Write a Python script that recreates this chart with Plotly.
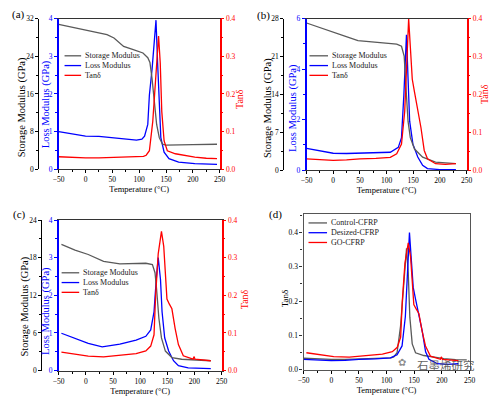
import plotly.graph_objects as go

# ---------------- data ----------------
# Panel (a) Control-CFRP
a_T_sto = [-50, -25, 0, 25, 40, 53, 71, 89, 107, 116, 120, 124, 128.4, 132.5, 137.4, 143.4, 150, 173.5, 200, 245]
a_sto = [30.8, 30.2, 29.6, 29.0, 28.6, 27.9, 26.1, 25.4, 24.7, 23.7, 22.7, 19.2, 13.7, 9.5, 6.7, 5.3, 5.1, 5.1, 5.2, 5.3]
a_T_loss = [-50, -25, 0, 25, 50, 75, 95, 105, 110, 116, 119, 124, 128.4, 131.3, 134.3, 137.4, 140.3, 146.4, 155.5, 173.5, 203.6, 245]
a_loss = [1.0, 0.93, 0.88, 0.87, 0.84, 0.80, 0.77, 0.80, 0.88, 1.19, 1.97, 2.66, 3.44, 3.96, 2.83, 1.53, 0.84, 0.45, 0.28, 0.19, 0.15, 0.13]
a_T_tan = [-50, -25, 0, 25, 50, 75, 100, 108, 113, 119, 125.3, 130.2, 133.8, 136.1, 139.2, 142.1, 146.4, 152.4, 167.4, 185, 203.6, 225, 245]
a_tan = [0.033, 0.031, 0.030, 0.030, 0.031, 0.032, 0.033, 0.034, 0.037, 0.049, 0.127, 0.24, 0.326, 0.354, 0.283, 0.153, 0.075, 0.049, 0.041, 0.036, 0.032, 0.029, 0.028]

# Panel (b) Desized-CFRP
b_T_sto = [-50, -25, 0, 24.5, 46.4, 82.7, 119, 128, 133, 137.3, 140.3, 144.5, 152.4, 167.6, 191.8, 230]
b_sto = [27.2, 26.4, 25.6, 24.7, 23.95, 23.6, 23.3, 22.9, 21.1, 13.8, 9.0, 6.0, 3.9, 2.4, 1.5, 1.2]
b_T_loss = [-50, -25, 0, 25, 46, 75, 107, 122, 128, 132.4, 135.5, 137.3, 140.3, 143.3, 149.4, 158.5, 167.6, 176.7, 200, 230]
b_loss = [0.86, 0.76, 0.67, 0.66, 0.67, 0.68, 0.71, 0.9, 1.29, 2.97, 4.65, 5.36, 3.62, 1.94, 1.03, 0.52, 0.19, 0.06, 0.02, 0.02]
b_T_tan = [-50, -25, 0, 25, 50, 80, 107, 119, 128, 134, 137.3, 140.3, 141.4, 144.5, 148.2, 152.4, 158.5, 164.5, 170.6, 176.7, 191.8, 210, 230]
b_tan = [0.030, 0.028, 0.026, 0.027, 0.030, 0.031, 0.034, 0.043, 0.069, 0.155, 0.284, 0.396, 0.40, 0.327, 0.24, 0.206, 0.163, 0.112, 0.052, 0.030, 0.017, 0.015, 0.017]

# Panel (c) GO-CFRP
c_T_sto = [-45, -20, 4.4, 32.6, 62.6, 92.5, 110.4, 122.5, 127.3, 130.2, 134.5, 139.2, 146.4, 158.4, 176.4, 230]
c_sto = [20.1, 19.2, 18.5, 17.4, 17.0, 17.0, 17.1, 16.9, 15.6, 13.0, 8.3, 5.2, 3.1, 2.07, 1.8, 1.56]
c_T_loss = [-45, -20, 4.4, 30, 62.6, 92.5, 110.4, 119.4, 125.5, 129.6, 133.2, 137.4, 140.3, 145.1, 152.4, 161.4, 170.4, 188.4, 230]
c_loss = [0.99, 0.85, 0.72, 0.63, 0.70, 0.81, 0.91, 1.08, 1.56, 2.42, 3.0, 2.42, 1.56, 0.87, 0.52, 0.26, 0.13, 0.07, 0.05]
c_T_tan = [-45, -20, 4.4, 32.6, 62.6, 92.5, 110.4, 119.4, 125.5, 128.4, 133.2, 137.4, 139.2, 143.4, 146.4, 149.3, 153.5, 158.4, 164.3, 170.4, 179.4, 197.4, 199, 201, 230]
c_tan = [0.049, 0.043, 0.038, 0.036, 0.040, 0.045, 0.052, 0.065, 0.095, 0.199, 0.31, 0.364, 0.37, 0.33, 0.242, 0.19, 0.177, 0.164, 0.112, 0.069, 0.039, 0.030, 0.037, 0.030, 0.026]

series_names = ["Storage Modulus", "Loss Modulus", "Tanδ"]
d_names = ["Control-CFRP", "Desized-CFRP", "GO-CFRP"]
y_titles = ["Storage Modulus (GPa)", "Loss Modulus (GPa)", "Tanδ"]
x_title = "Temperature (°C)"
panel_labels = ["(a)", "(b)", "(c)", "(d)"]
x_ticks = [-50, 0, 50, 100, 150, 200, 250]

# ---------------- styling ----------------
W, H = 496, 398
FONT = "Liberation Serif"
GRAY, BLUE, RED = "#5a5a5a", "#0000ff", "#ff0000"
TICKF = 7.5

def px_x(p):
    return p / W

def px_y(p):
    return 1 - p / H

fig = go.Figure()

panels = [
    dict(x="x", yl="y", ys="y2", yt="y3", xd=(54, 219), yd=(15, 169), sp=33, sr=32, sdt=8, lr=4, ldt=1,
         T=(a_T_sto, a_T_loss, a_T_tan), V=(a_sto, a_loss, a_tan),
         tpos=((16, 106), (40.5, 103), (240, 97))),
    dict(x="x2", yl="y4", ys="y5", yt="y6", xd=(308, 472), yd=(15, 170), sp=284, sr=28, sdt=7, lr=6, ldt=2,
         T=(b_T_sto, b_T_loss, b_T_tan), V=(b_sto, b_loss, b_tan),
         tpos=((268, 107), (293.5, 106), (491, 92))),
    dict(x="x3", yl="y7", ys="y8", yt="y9", xd=(54, 221), yd=(221, 375), sp=36, sr=24, sdt=6, lr=4, ldt=1,
         T=(c_T_sto, c_T_loss, c_T_tan), V=(c_sto, c_loss, c_tan),
         tpos=((19, 310), (41, 314), (244, 302))),
]

def axname(a):
    return a.replace("x", "xaxis").replace("y", "yaxis") if len(a) > 1 else ("xaxis" if a == "x" else "yaxis")

layout = {}
shapes, annos = [], []

def xaxis_cfg(dom):
    return dict(domain=[px_x(dom[0]), px_x(dom[1])], range=[-50, 250], tickvals=x_ticks,
                ticks="outside", ticklen=3, tickcolor="black", tickwidth=1,
                minor=dict(dtick=25, tick0=-50, ticks="outside", ticklen=2, tickcolor="black"),
                showline=True, linecolor="#333", linewidth=1.3, mirror=True,
                showgrid=False, zeroline=False,
                tickfont=dict(family=FONT, size=TICKF, color="black"),
                title=dict(text=x_title, font=dict(family=FONT, size=8.5, color="black"), standoff=0))

def ytitle(text, pos, color, size):
    annos.append(dict(text=text, xref="paper", yref="paper", x=px_x(pos[0]), y=px_y(pos[1]),
                      xanchor="center", yanchor="middle", textangle=-90, showarrow=False,
                      font=dict(family=FONT, size=size, color=color)))

for p in panels:
    xk = axname(p["x"])
    layout[xk] = xaxis_cfg(p["xd"])
    layout[xk]["anchor"] = p["yl"]
    ydom = [px_y(p["yd"][1]), px_y(p["yd"][0])]
    layout[axname(p["yl"])] = dict(
        domain=ydom, anchor=p["x"], range=[0, p["lr"]], dtick=p["ldt"], tick0=0,
        ticks="outside", ticklen=3, tickcolor=BLUE,
        minor=dict(dtick=p["ldt"] / 2, ticks="outside", ticklen=2, tickcolor=BLUE),
        showline=True, linecolor=BLUE, linewidth=1.5, showgrid=False, zeroline=False,
        tickfont=dict(family=FONT, size=TICKF, color=BLUE))
    layout[axname(p["ys"])] = dict(
        overlaying=p["yl"], anchor="free", position=px_x(p["sp"]), side="left",
        range=[0, p["sr"]], dtick=p["sdt"], tick0=0,
        ticks="outside", ticklen=3, tickcolor="black",
        minor=dict(dtick=p["sdt"] / 2, ticks="outside", ticklen=2, tickcolor="black"),
        showline=True, linecolor="black", linewidth=1, showgrid=False, zeroline=False,
        tickfont=dict(family=FONT, size=TICKF, color="black"))
    layout[axname(p["yt"])] = dict(
        overlaying=p["yl"], anchor=p["x"], side="right",
        range=[0, 0.4], dtick=0.1, tick0=0, tickformat=".1f",
        ticks="outside", ticklen=3, tickcolor=RED,
        minor=dict(dtick=0.05, ticks="outside", ticklen=2, tickcolor=RED),
        showline=True, linecolor=RED, linewidth=1.5, showgrid=False, zeroline=False,
        tickfont=dict(family=FONT, size=TICKF, color=RED))
    for txt, pos, col, sz in zip(y_titles, p["tpos"], ("black", BLUE, RED), (10.5, 10.5, 10)):
        ytitle(txt, pos, col, sz)

    for i, (yk, col) in enumerate(zip((p["ys"], p["yl"], p["yt"]), (GRAY, BLUE, RED))):
        fig.add_trace(go.Scatter(x=p["T"][i], y=p["V"][i], mode="lines", xaxis=p["x"], yaxis=yk,
                                 line=dict(color=col, width=1.3), name=series_names[i], showlegend=False))

# Panel (d): Tanδ of the three composites
layout["xaxis4"] = xaxis_cfg((305, 475))
layout["xaxis4"]["anchor"] = "y10"
layout["xaxis4"]["linecolor"] = "#555"
layout["yaxis10"] = dict(
    domain=[px_y(374), px_y(215)], anchor="x4", range=[0, 0.454], dtick=0.1, tick0=0, tickformat=".1f",
    ticks="outside", ticklen=3, tickcolor="#333",
    minor=dict(dtick=0.05, ticks="outside", ticklen=2, tickcolor="#333"),
    showline=True, linecolor="#555", linewidth=1.3, mirror=True, showgrid=False, zeroline=False,
    tickfont=dict(family=FONT, size=TICKF, color="black"))
ytitle("Tanδ", (286, 301), "black", 9)
for T, V, col, nm in zip((a_T_tan, b_T_tan, c_T_tan), (a_tan, b_tan, c_tan), (GRAY, BLUE, RED), d_names):
    fig.add_trace(go.Scatter(x=T, y=V, mode="lines", xaxis="x4", yaxis="y10",
                             line=dict(color=col, width=1.3), name=nm, showlegend=False))

# ---------------- manual legends & labels ----------------
legends = [
    ((60, 77, 79), (53, 63, 73), series_names),
    ((311, 330, 332), (53, 63, 73), series_names),
    ((57, 75, 77), (275, 285, 295), series_names),
    ((310, 329, 331), (224, 234, 244), d_names),
]
for (x0, x1, xt), ys, names in legends:
    for y, col, nm in zip(ys, (GRAY, BLUE, RED), names):
        shapes.append(dict(type="line", xref="paper", yref="paper", x0=px_x(x0), x1=px_x(x1),
                           y0=px_y(y), y1=px_y(y), line=dict(color=col, width=1.3)))
        annos.append(dict(text=nm, xref="paper", yref="paper", x=px_x(xt), y=px_y(y),
                          xanchor="left", yanchor="middle", showarrow=False,
                          font=dict(family=FONT, size=8, color="#222")))

for lab, (x, y) in zip(panel_labels, [(13, 11), (264, 12), (14, 215), (276, 215)]):
    annos.append(dict(text=lab, xref="paper", yref="paper", x=px_x(x), y=px_y(y), xanchor="center",
                      yanchor="middle", showarrow=False, font=dict(family=FONT, size=11, color="black")))

# watermark in the source picture
annos.append(dict(text="石墨烯研究", xref="paper", yref="paper", x=px_x(451), y=px_y(369), xanchor="center",
                  yanchor="middle", showarrow=False,
                  font=dict(family="Noto Sans CJK SC", size=11.5, color="rgba(70,70,70,0.85)")))
annos.append(dict(text="✿", xref="paper", yref="paper", x=px_x(406), y=px_y(367), xanchor="center",
                  yanchor="middle", showarrow=False,
                  font=dict(family="DejaVu Sans", size=10, color="rgba(90,90,90,0.7)")))

fig.update_layout(**layout)
fig.update_layout(width=W, height=H, margin=dict(l=0, r=0, t=0, b=0), autosize=False,
                  paper_bgcolor="white", plot_bgcolor="white", showlegend=False,
                  shapes=shapes, annotations=annos, font=dict(family=FONT))

fig.write_html("out.html", config={"displayModeBar": False},
               post_script="document.body.style.margin='0px';")
